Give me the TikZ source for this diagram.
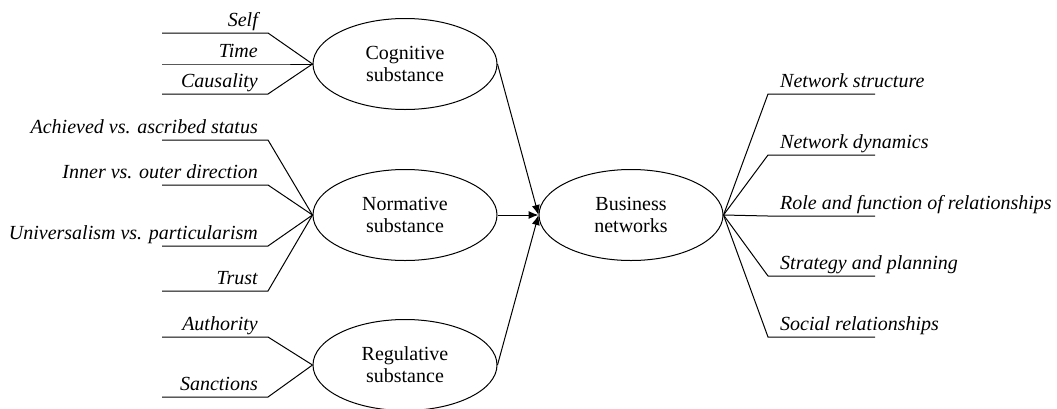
\documentclass[tikz,border=0pt]{standalone}
\usepackage{fontspec}
\setmainfont{Liberation Serif}
\usetikzlibrary{shapes.geometric, arrows.meta}

\tikzset{
    oval/.style={draw, ellipse, line width=1pt, minimum width=184pt, minimum height=91pt,
        inner sep=0pt, align=center, font=\fontsize{20}{22}\selectfont},
    lbl/.style={inner xsep=10pt, inner ysep=0pt, text depth=6pt,
        font=\fontsize{20}{22}\selectfont\itshape},
    link/.style={line width=1pt},
    feed/.style={line width=1pt, -{Latex[length=10pt, width=8pt]}}
}

\begin{document}
\begin{tikzpicture}[x=1pt, y=-1pt]
    \useasboundingbox (0,0) rectangle (1057,408);

    % substances and the network
    \node[oval] (cog) at (405,64) {Cognitive\\substance};
    \node[oval] (norm) at (405,215) {Normative\\substance};
    \node[oval] (reg) at (405,365) {Regulative\\substance};
    \node[oval] (biz) at (631,215) {Business\\networks};

    \draw[feed] (cog.east) -- (biz.west);
    \draw[feed] (norm.east) -- (biz.west);
    \draw[feed] (reg.east) -- (biz.west);

    % left side labels
    \node[lbl, anchor=south east] (self) at (268,33) {Self};
    \node[lbl, anchor=south east] (time) at (268,64) {Time};
    \node[lbl, anchor=south east] (caus) at (268,94) {Causality};
    \node[lbl, anchor=south east] (achv) at (268,140) {Achieved vs. ascribed status};
    \node[lbl, anchor=south east] (inner) at (268,185) {Inner vs. outer direction};
    \node[lbl, anchor=south east] (univ) at (268,246) {Universalism vs. particularism};
    \node[lbl, anchor=south east] (trust) at (268,291) {Trust};
    \node[lbl, anchor=south east] (auth) at (268,337) {Authority};
    \node[lbl, anchor=south east] (sanc) at (268,397) {Sanctions};

    \draw[link] ([xshift=-106pt]self.south east) -- (self.south east) -- (cog.west);
    \draw[link] ([xshift=-106pt]time.south east) -- (time.south east) -- (cog.west);
    \draw[link] ([xshift=-106pt]caus.south east) -- (caus.south east) -- (cog.west);
    \draw[link] ([xshift=-106pt]achv.south east) -- (achv.south east) -- (norm.west);
    \draw[link] ([xshift=-106pt]inner.south east) -- (inner.south east) -- (norm.west);
    \draw[link] ([xshift=-106pt]univ.south east) -- (univ.south east) -- (norm.west);
    \draw[link] ([xshift=-106pt]trust.south east) -- (trust.south east) -- (norm.west);
    \draw[link] ([xshift=-106pt]auth.south east) -- (auth.south east) -- (reg.west);
    \draw[link] ([xshift=-106pt]sanc.south east) -- (sanc.south east) -- (reg.west);

    % right side labels
    \node[lbl, anchor=south west, inner xsep=12pt] (struct) at (768,94) {Network structure};
    \node[lbl, anchor=south west, inner xsep=12pt] (dyn) at (768,155) {Network dynamics};
    \node[lbl, anchor=south west, inner xsep=12pt] (role) at (768,216) {Role and function of relationships};
    \node[lbl, anchor=south west, inner xsep=12pt] (strat) at (768,276) {Strategy and planning};
    \node[lbl, anchor=south west, inner xsep=12pt] (social) at (768,337) {Social relationships};

    \draw[link] (biz.east) -- (struct.south west) -- ([xshift=107pt]struct.south west);
    \draw[link] (biz.east) -- (dyn.south west) -- ([xshift=107pt]dyn.south west);
    \draw[link] (biz.east) -- (role.south west) -- ([xshift=107pt]role.south west);
    \draw[link] (biz.east) -- (strat.south west) -- ([xshift=107pt]strat.south west);
    \draw[link] (biz.east) -- (social.south west) -- ([xshift=107pt]social.south west);
\end{tikzpicture}
\end{document}
